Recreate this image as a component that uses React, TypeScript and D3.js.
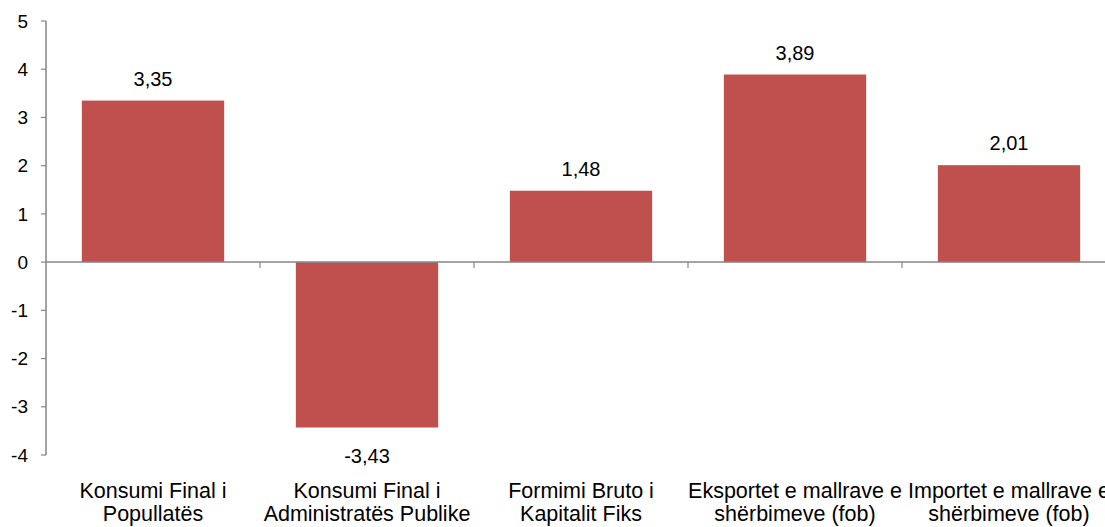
import React, { useEffect, useRef } from 'react';
import * as d3 from 'd3';

const categories: string[][] = [
  ['Konsumi Final i', 'Popullatës'],
  ['Konsumi Final i', 'Administratës Publike'],
  ['Formimi Bruto i', 'Kapitalit Fiks'],
  ['Eksportet e mallrave e', 'shërbimeve (fob)'],
  ['Importet e mallrave e', 'shërbimeve (fob)'],
];
const values = [3.35, -3.43, 1.48, 3.89, 2.01];
const yTicks = [5, 4, 3, 2, 1, 0, -1, -2, -3, -4];

const width = 1105;
const height = 527;
const margin = { top: 21, left: 46, bottom: 72, right: -11 };

const App = () => {
  const ref = useRef<SVGSVGElement>(null);

  useEffect(() => {
    const svg = d3.select(ref.current);
    svg.selectAll('*').remove();

    const iwidth = width - margin.left - margin.right;
    const iheight = height - margin.top - margin.bottom;
    const font = '"Liberation Sans", Arial, sans-serif';
    const axisColor = '#868686';

    const x = d3.scaleBand<number>()
      .domain(values.map((_, i) => i))
      .range([0, iwidth])
      .paddingInner(0.335)
      .paddingOuter(0.1675);

    const y = d3.scaleLinear().domain([-4, 5]).range([iheight, 0]);

    const g = svg.append('g').attr('transform', `translate(${margin.left},${margin.top})`);

    // bars
    g.selectAll('rect.bar').data(values).enter().append('rect')
      .attr('class', 'bar')
      .attr('x', (_, i) => x(i)!)
      .attr('y', d => y(Math.max(0, d)))
      .attr('width', x.bandwidth())
      .attr('height', d => Math.abs(y(d) - y(0)))
      .style('fill', '#C0504D');

    // value labels
    g.selectAll('text.val').data(values).enter().append('text')
      .attr('class', 'val')
      .attr('x', (_, i) => x(i)! + x.bandwidth() / 2)
      .attr('y', d => d >= 0 ? y(d) - 15 : y(d) + 35)
      .attr('text-anchor', 'middle')
      .style('font-family', font)
      .style('font-size', '20px')
      .style('fill', '#000')
      .text(d => d.toFixed(2).replace('.', ','));

    // y axis
    const yAxis = g.append('g');
    yAxis.append('line')
      .attr('x1', 0).attr('x2', 0)
      .attr('y1', y(5)).attr('y2', y(-4))
      .attr('stroke', axisColor).attr('stroke-width', 1.5);
    yTicks.forEach(t => {
      yAxis.append('line')
        .attr('x1', -5).attr('x2', 0)
        .attr('y1', y(t)).attr('y2', y(t))
        .attr('stroke', axisColor).attr('stroke-width', 1.2);
      yAxis.append('text')
        .attr('x', -18).attr('y', y(t)).attr('dy', '0.35em')
        .attr('text-anchor', 'end')
        .style('font-family', font).style('font-size', '19px')
        .text(t);
    });

    // zero line with category ticks
    g.append('line')
      .attr('x1', 0).attr('x2', iwidth)
      .attr('y1', y(0)).attr('y2', y(0))
      .attr('stroke', axisColor).attr('stroke-width', 1.5);
    const step = x.step();
    d3.range(1, values.length).forEach(i => {
      const cx = x(i)! - (step - x.bandwidth()) / 2;
      g.append('line')
        .attr('x1', cx).attr('x2', cx)
        .attr('y1', y(0)).attr('y2', y(0) + 6)
        .attr('stroke', axisColor).attr('stroke-width', 1.2);
    });

    // category labels
    categories.forEach((lines, i) => {
      const t = g.append('text')
        .attr('x', x(i)! + x.bandwidth() / 2)
        .attr('y', iheight + 43)
        .attr('text-anchor', 'middle')
        .style('font-family', font).style('font-size', '21.5px');
      lines.forEach((l, j) => {
        t.append('tspan')
          .attr('x', x(i)! + x.bandwidth() / 2)
          .attr('dy', j === 0 ? 0 : 23)
          .text(l);
      });
    });
  }, []);

  return (
    <svg ref={ref} width={width} height={height}
      style={{ position: 'absolute', left: 0, top: 0, background: '#fff' }} />
  );
};

export default App;
